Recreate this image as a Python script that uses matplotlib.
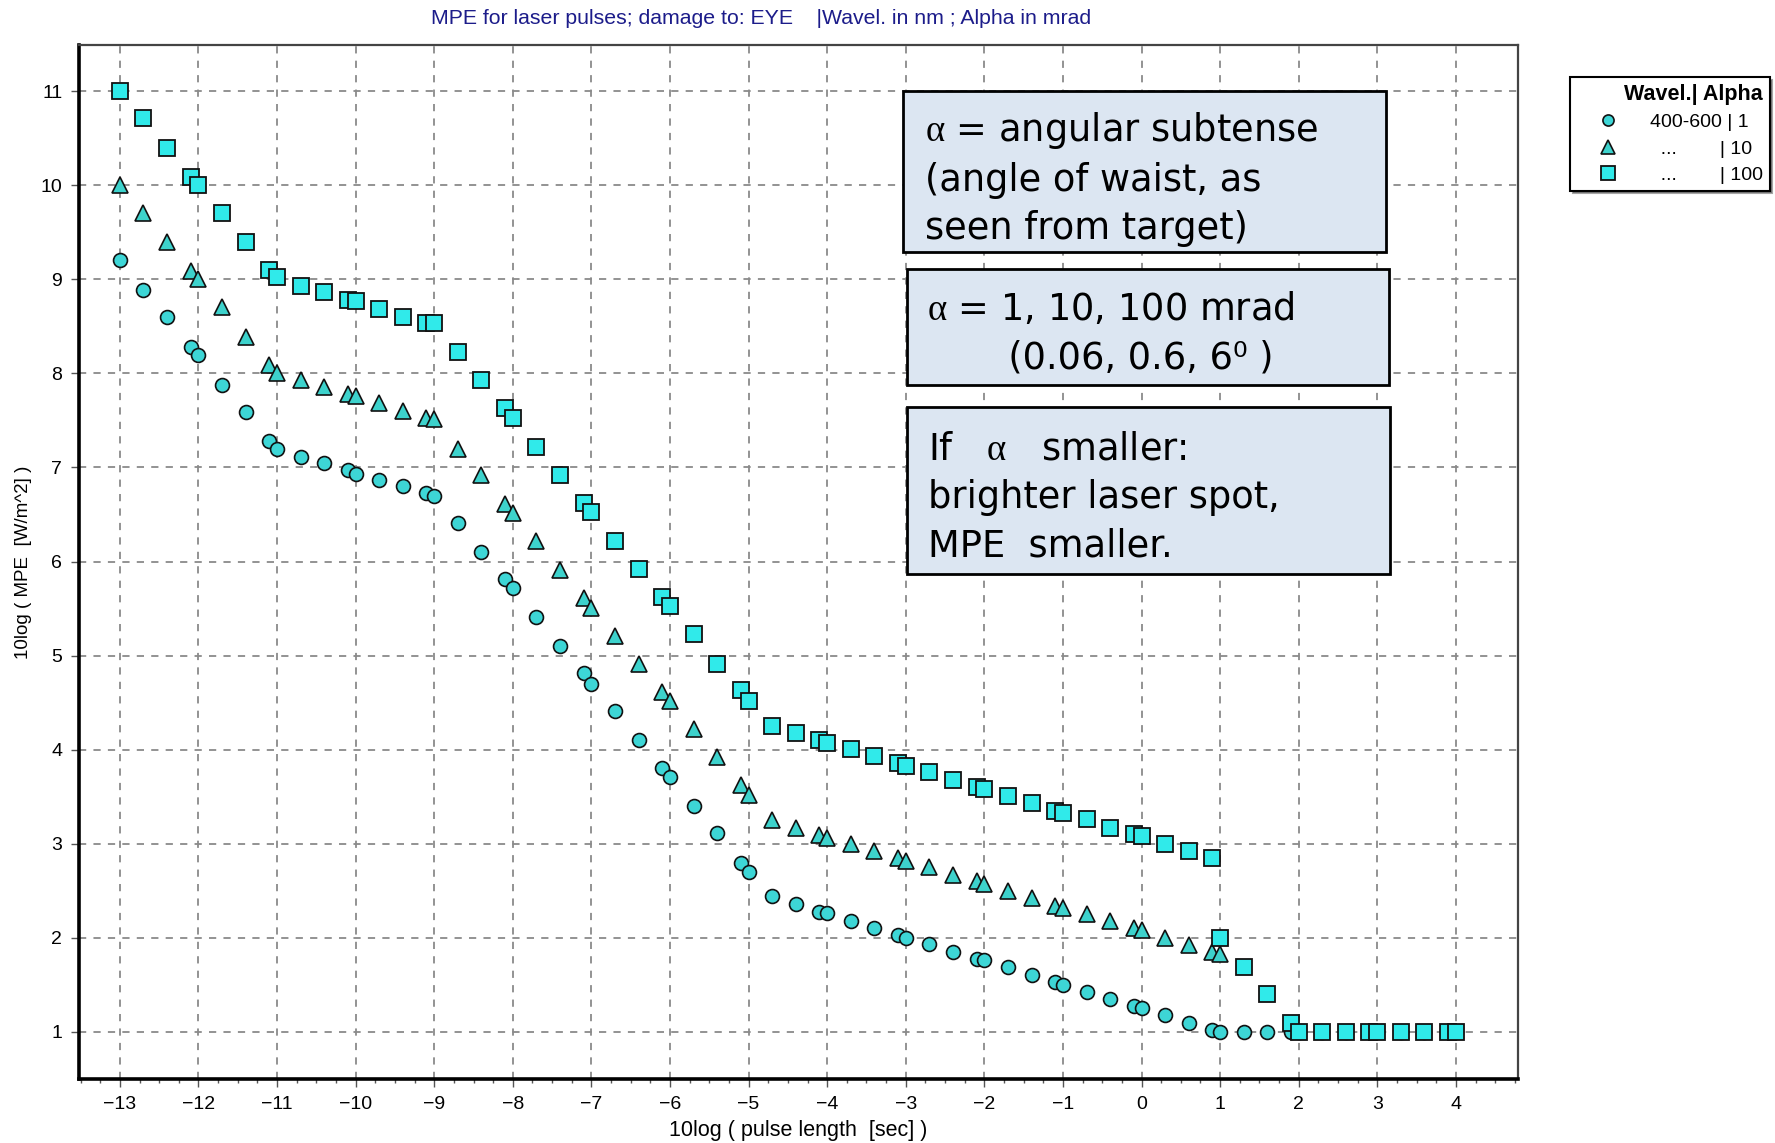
import numpy as np
import matplotlib
matplotlib.use("Agg")
import matplotlib.pyplot as plt
from matplotlib.patches import Rectangle
from matplotlib.ticker import MultipleLocator

plt.rcParams["mathtext.fontset"] = "custom"
plt.rcParams["mathtext.rm"] = "Liberation Serif"

# log10(pulse length) sample points: 1, 2, 4, 8 times each decade
x_pts = [-13, -12.7, -12.4, -12.1, -12, -11.7, -11.4, -11.1, -11, -10.7, -10.4, -10.1,
         -10, -9.7, -9.4, -9.1, -9, -8.7, -8.4, -8.1, -8, -7.7, -7.4, -7.1,
         -7, -6.7, -6.4, -6.1, -6, -5.7, -5.4, -5.1, -5, -4.7, -4.4, -4.1,
         -4, -3.7, -3.4, -3.1, -3, -2.7, -2.4, -2.1, -2, -1.7, -1.4, -1.1,
         -1, -0.7, -0.4, -0.1, 0, 0.3, 0.6, 0.9, 1]

mpe_a1 = [9.2, 8.89, 8.6, 8.28, 8.2, 7.88, 7.59, 7.28, 7.2, 7.11, 7.05, 6.97,
          6.93, 6.87, 6.8, 6.73, 6.7, 6.41, 6.1, 5.81, 5.72, 5.41, 5.1, 4.81,
          4.7, 4.41, 4.1, 3.81, 3.71, 3.4, 3.11, 2.8, 2.7, 2.44, 2.36, 2.28,
          2.26, 2.18, 2.1, 2.03, 2.0, 1.94, 1.85, 1.78, 1.76, 1.69, 1.61, 1.53,
          1.5, 1.43, 1.35, 1.28, 1.25, 1.18, 1.1, 1.02, 1.0]
mpe_a10 = [10.0, 9.7, 9.4, 9.09, 9.0, 8.7, 8.39, 8.09, 8.0, 7.93, 7.85, 7.78,
           7.76, 7.69, 7.6, 7.53, 7.52, 7.2, 6.92, 6.61, 6.52, 6.22, 5.91, 5.61,
           5.51, 5.21, 4.91, 4.61, 4.52, 4.22, 3.92, 3.62, 3.52, 3.25, 3.17, 3.09,
           3.06, 3.0, 2.92, 2.85, 2.82, 2.75, 2.67, 2.6, 2.57, 2.5, 2.42, 2.34,
           2.32, 2.25, 2.18, 2.1, 2.08, 2.0, 1.92, 1.85, 1.83]
mpe_a100 = [11.0, 10.71, 10.4, 10.09, 10.0, 9.7, 9.4, 9.1, 9.02, 8.93, 8.86, 8.78,
            8.77, 8.68, 8.6, 8.54, 8.54, 8.23, 7.93, 7.63, 7.53, 7.22, 6.92, 6.62,
            6.53, 6.22, 5.92, 5.62, 5.53, 5.23, 4.91, 4.63, 4.52, 4.25, 4.18, 4.1,
            4.07, 4.01, 3.93, 3.86, 3.83, 3.76, 3.68, 3.6, 3.58, 3.51, 3.43, 3.35,
            3.33, 3.26, 3.17, 3.1, 3.08, 3.0, 2.92, 2.85, 2.0]

# long pulses: all curves end on the same floor
x_tail = [1.3, 1.6, 1.9, 2, 2.3, 2.6, 2.9, 3, 3.3, 3.6, 3.9, 4]
tail_a1 = [1.0, 1.0, 1.0, 1.0, 1.0, 1.0, 1.0, 1.0, 1.0, 1.0, 1.0, 1.0]
tail_a100 = [1.69, 1.4, 1.09, 1.0, 1.0, 1.0, 1.0, 1.0, 1.0, 1.0, 1.0, 1.0]

legend_labels = ["400-600 | 1", "  ...        | 10", "  ...        | 100"]

W, H = 1775, 1143
fig = plt.figure(figsize=(W / 100, H / 100), dpi=100)
fig.patch.set_facecolor("white")


def fx(px):
    return px / W


def fy(py):
    return 1 - py / H


ax = fig.add_axes([fx(79), fy(1079), fx(1518) - fx(79), fy(45) - fy(1079)])

ec = "#111111"
ax.plot(x_pts + x_tail, mpe_a1 + tail_a1, "o", ms=10, mfc="#3dd6d6", mec=ec, mew=1.2,
        label=legend_labels[0], zorder=3)
ax.plot(x_pts, mpe_a10, "^", ms=12, mfc="#3dd2cc", mec=ec, mew=1.2,
        label=legend_labels[1], zorder=4)
ax.plot(x_pts + x_tail, mpe_a100 + tail_a100, "s", ms=12, mfc="#30eaea", mec=ec, mew=1.3,
        label=legend_labels[2], zorder=5)

ax.set_xlim(-13.52, 4.79)
ax.set_ylim(0.5, 11.49)
ax.xaxis.set_major_locator(MultipleLocator(1))
ax.xaxis.set_minor_locator(MultipleLocator(0.25))
ax.yaxis.set_major_locator(MultipleLocator(1))

ax.grid(True, which="major", color="#8a8a8a", linestyle=(0, (4, 4)), linewidth=1.3)
ax.set_axisbelow(True)

for s in ["left", "bottom"]:
    ax.spines[s].set_linewidth(2.6)
    ax.spines[s].set_color("black")
for s in ["top", "right"]:
    ax.spines[s].set_linewidth(1.6)
    ax.spines[s].set_color("#444444")

ax.tick_params(which="major", direction="out", length=6, width=1, color="#555555",
               labelsize=14, pad=6)
ax.tick_params(which="minor", direction="out", length=3, width=1, color="#555555")
for lab in ax.get_xticklabels() + ax.get_yticklabels():
    lab.set_fontfamily("Liberation Sans")

ax.set_xlabel("10log ( pulse length  [sec] )", fontsize=15.5, family="Liberation Sans",
              labelpad=5)
ax.set_ylabel("10log ( MPE  [W/m^2] )", fontsize=13.5, family="Liberation Sans",
              labelpad=6)

fig.text(fx(761), fy(18), "MPE for laser pulses; damage to: EYE    |Wavel. in nm ; Alpha in mrad",
         ha="center", va="center", fontsize=15.3, color="#1c1c8a", family="Liberation Sans")

# annotation boxes (alpha in a serif face, as in the original slide)
A = r"$\mathrm{\alpha}$"
boxes = [
    (903, 91, 1386, 252, 925, A + " = angular subtense\n(angle of waist, as\nseen from target)"),
    (907, 269, 1389, 385, 927, A + " = 1, 10, 100 mrad\n       (0.06, 0.6, 6\u2070 )"),
    (907, 407, 1390, 574, 928, "If   " + A + "   smaller:\nbrighter laser spot,\nMPE  smaller."),
]
for x0, y0, x1, y1, tx, txt in boxes:
    fig.add_artist(Rectangle((fx(x0), fy(y1)), fx(x1) - fx(x0), fy(y0) - fy(y1),
                             transform=fig.transFigure, facecolor="#dce6f2",
                             edgecolor="black", linewidth=2, zorder=10))
    fig.text(fx(tx), fy((y0 + y1) / 2 + 7), txt, ha="left", va="center", fontsize=26.5,
             family="DejaVu Sans", linespacing=1.38, zorder=11)

leg = ax.legend(loc="upper left", bbox_to_anchor=(fx(1570), fy(77)),
                bbox_transform=fig.transFigure, title="Wavel.| Alpha",
                prop={"family": "Liberation Sans", "size": 14},
                frameon=True, fancybox=False, shadow=True, edgecolor="black",
                borderpad=0.35, labelspacing=0.45, handletextpad=0.55, markerscale=0.8,
                handlelength=3.2, borderaxespad=0, alignment="right")
leg.get_title().set_fontweight("bold")
leg.get_title().set_fontsize(15.5)
leg.get_title().set_family("Liberation Sans")
leg.get_frame().set_linewidth(1.5)

fig.savefig("out.png", dpi=100)
